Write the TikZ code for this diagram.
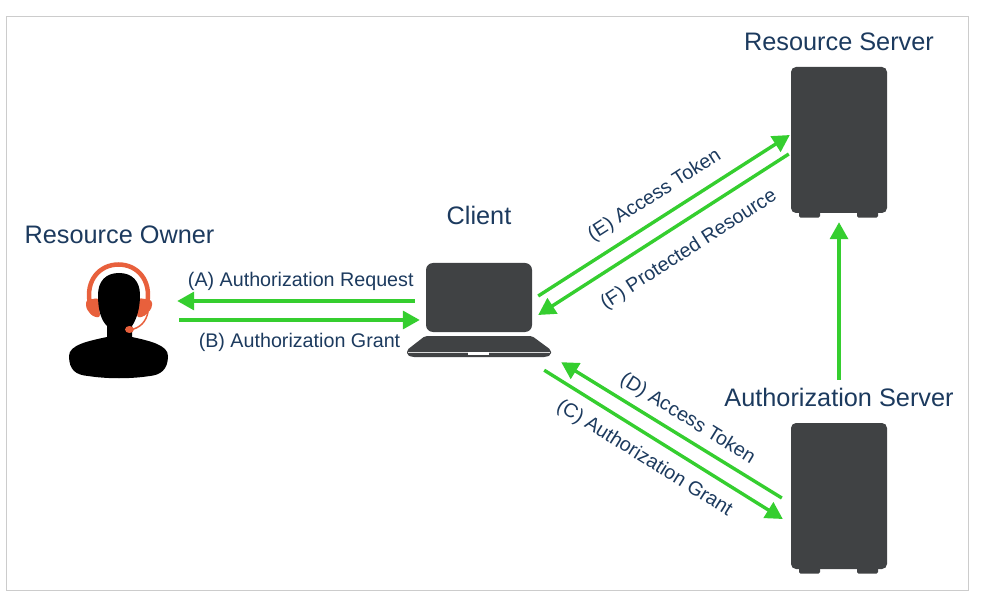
\documentclass[tikz,border=0pt]{standalone}
\usepackage{fontspec}
\setmainfont{Liberation Sans}
\usetikzlibrary{arrows.meta}
\definecolor{device}{HTML}{404244}
\definecolor{flowgreen}{HTML}{35CE2F}
\definecolor{navy}{HTML}{1C3A5E}
\definecolor{headset}{HTML}{E8603C}
\tikzset{
	box/.style={rectangle,fill=device,rounded corners=5pt,inner sep=0pt},
	server/.style={box,minimum width=96pt,minimum height=146pt},
	title/.style={text=navy,font=\fontsize{25.3pt}{28pt}\selectfont},
	flow/.style={flowgreen,line width=3.4pt,-{Triangle[length=17pt,width=18pt]}},
	lab/.style={text=navy,font=\fontsize{19.7pt}{22pt}\selectfont,inner sep=2pt}
}
\begin{document}
\begin{tikzpicture}[x=1pt,y=-1pt]
	\useasboundingbox (0,0) rectangle (984,601);
	\draw [black!20,line width=1pt] (6.5,16.5) rectangle (968,590);

	\node (owner) [minimum width=99pt,minimum height=116pt,inner sep=0pt] at (118.5,320) {};
	\node (client) [box,rounded corners=7pt,minimum width=106pt,minimum height=69pt] at (479,297.5) {};
	\node (rs) [server] at (839,140) {};
	\node (as) [server] at (839,496) {};

	\node (ownerT) [title,above of=owner,node distance=85pt,xshift=1pt] {Resource Owner};
	\node (clientT) [title,above of=client,node distance=82.5pt] {Client};
	\node (rsT) [title,above of=rs,node distance=98pt] {Resource Server};
	\node (asT) [title,above of=as,node distance=99pt] {Authorization Server};

	% person
	\draw [headset,line width=4.5pt] (90,304) .. controls (85,280) and (100,264.5) .. (118.5,264.5) .. controls (137,264.5) and (152,280) .. (147,304);
	\fill [headset,rounded corners=3pt] (86,300) -- (99,298) -- (100,318) -- (92,316) -- (86,308) -- cycle;
	\fill [headset,rounded corners=3pt] (152,300) -- (138,298) -- (137,318) -- (145,316) -- (152,308) -- cycle;
	\fill (119,273) .. controls (132,273) and (140,281) .. (140,295) .. controls (140,310) and (136,320) .. (132,326) -- (132,337) .. controls (150,341) and (168,345) .. (168,356) .. controls (168,370) and (160,375) .. (150,376) .. controls (130,379) and (108,379) .. (88,376) .. controls (76,375) and (69,370) .. (69,356) .. controls (69,345) and (88,341) .. (107,337) -- (107,326) .. controls (101,320) and (98,310) .. (98,295) .. controls (98,281) and (106,273) .. (119,273) -- cycle;
	\draw [headset,line width=1.5pt] (148,312) .. controls (146,322) and (140,328) .. (130,330);
	\fill [headset] (129.5,329.5) ellipse (4.5pt and 3.5pt);

	% laptop base
	\fill [device,rounded corners=2pt] (425,336) -- (532,336) -- (551,350) -- (551,355) -- (546,357) -- (412,357) -- (407,355) -- (407,350) -- cycle;
	\fill [black!15] (408,351.5) rectangle (550,352.5);
	\fill [white] (468,352) rectangle (489,355);

	% server feet
	\foreach \srv in {rs,as} {
		\fill [device,rounded corners=1.5pt] ([xshift=-40pt,yshift=3pt]\srv.south) rectangle ([xshift=-19pt,yshift=-4.5pt]\srv.south);
		\fill [device,rounded corners=1.5pt] ([xshift=18pt,yshift=3pt]\srv.south) rectangle ([xshift=39pt,yshift=-4.5pt]\srv.south);
	}

	\draw [flow] ([shift={(-11pt,-3.5pt)}]client.west) -- node [lab,pos=0.48,above,yshift=7pt] {(A) Authorization Request} ([shift={(9pt,19pt)}]owner.east);
	\draw [flow] ([xshift=11pt]owner.east) -- node [lab,midway,below,yshift=-10pt] {(B) Authorization Grant} ([shift={(-6pt,-22.5pt)}]client.west);
	\draw [flow] ([shift={(6pt,1.5pt)}]client.east) -- node [lab,pos=0.51,above,sloped,yshift=9pt] {(E) Access Token} ([shift={(-1pt,5pt)}]rs.west);
	\draw [flow] ([shift={(-2pt,-14pt)}]rs.west) -- node [lab,pos=0.456,below,sloped,yshift=-14pt] {(F) Protected Resource} ([shift={(6pt,-17.5pt)}]client.east);
	\draw [flow] ([shift={(-9pt,-2pt)}]as.west) -- node [lab,pos=0.47,above,sloped,yshift=5pt] {(D) Access Token} ([shift={(29pt,-30pt)}]client.south east);
	\draw [flow] ([shift={(12pt,-38pt)}]client.south east) -- node [lab,pos=0.468,below,sloped,yshift=-9pt] {(C) Authorization Grant} ([shift={(-8pt,-23pt)}]as.west);
	\draw [flow] ([yshift=43pt]as.north) -- ([yshift=-9pt]rs.south);
\end{tikzpicture}
\end{document}
